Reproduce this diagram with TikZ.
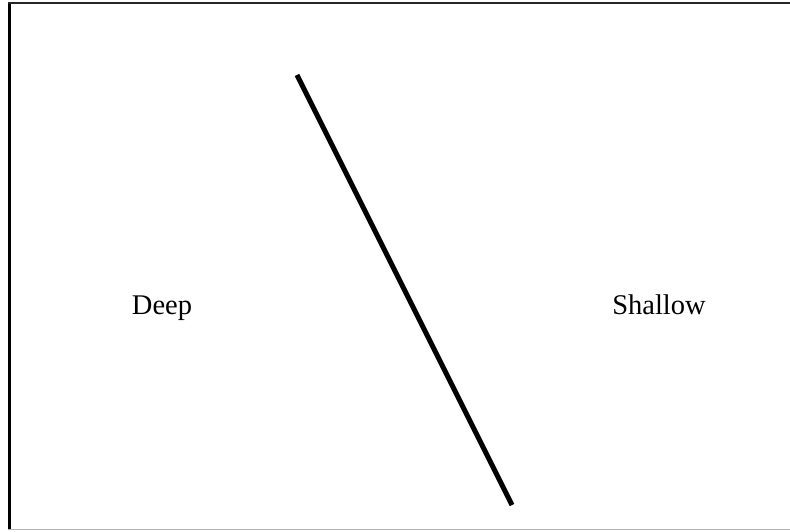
\documentclass[tikz,border=0pt]{standalone}
\usepackage{fontspec}
\setmainfont{Liberation Serif}
\begin{document}
\begin{tikzpicture}[x=1pt,y=1pt,
  lbl/.style={font=\fontsize{28.5}{34}\selectfont, inner sep=0pt}]
\useasboundingbox (0,0) rectangle (790,531);
\fill[white] (0,0) rectangle (790,531);
% frame
\draw[line width=3pt,black] (9.5,1.5) -- (9.5,528.5);
\draw[line width=2pt,black!85] (8,528) -- (790,528);
\draw[line width=1pt,black!30] (8,1.5) -- (790,1.5);
% dividing line
\coordinate (top) at (297,456);
\coordinate (bot) at (512,26);
\draw[line width=5pt] (top) -- (bot);
\node[lbl, anchor=base] (deep) at (162,217) {Deep};
\node[lbl, anchor=base] (shallow) at (659,217) {Shallow};
\end{tikzpicture}
\end{document}
